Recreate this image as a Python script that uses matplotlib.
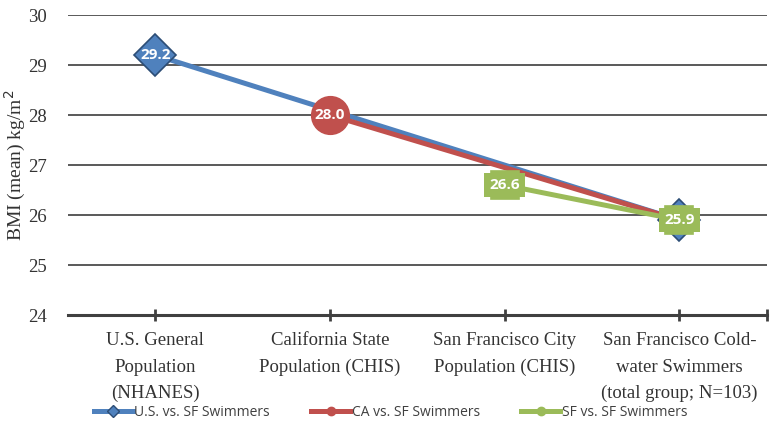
import numpy as np
import matplotlib as mpl
mpl.use('Agg')
import matplotlib.pyplot as plt

categories = ["U.S. General\nPopulation\n(NHANES)",
              "California State\nPopulation (CHIS)",
              "San Francisco City\nPopulation (CHIS)",
              "San Francisco Cold-\nwater Swimmers\n(total group; N=103)"]
us_vals = [29.2, np.nan, np.nan, 25.9]
ca_vals = [np.nan, 28.0, np.nan, 25.9]
sf_vals = [np.nan, np.nan, 26.6, 25.9]
series_names = ["U.S. vs. SF Swimmers", "CA vs. SF Swimmers", "SF vs. SF Swimmers"]

blue = '#4F81BD'
red = '#C0504D'
green = '#9BBB59'
serif = 'Liberation Serif'
sans = 'Open Sans'

fig = plt.figure(figsize=(7.73, 4.34), dpi=100)
ax = fig.add_axes([0.088, 0.274, 0.904, 0.691])

x = np.arange(len(categories))

def draw(vals, color, marker, ms, mec, label, leg_marker, lab_box=False, skip_end=False):
    vals = np.array(vals, dtype=float)
    ok = ~np.isnan(vals)
    xs, ys = x[ok], vals[ok]
    ax.plot(xs, ys, '-', color=color, lw=3.6, solid_capstyle='butt', zorder=3)
    mx, my = (xs[:-1], ys[:-1]) if skip_end else (xs, ys)
    ax.plot(mx, my, linestyle='none', marker=marker, ms=ms, color=color,
            mec=mec, mew=1.2, zorder=4)
    # proxy for legend
    ax.plot([], [], '-', color=color, lw=3.6, marker=leg_marker, ms=6, mec=mec,
            label=label)
    for xi, yi in zip(xs, ys):
        if skip_end and xi == xs[-1]:
            continue
        bbox = dict(boxstyle='square,pad=0.35', fc=color, ec='none') if lab_box else None
        ax.text(xi, yi, f"{yi:.1f}", color='white', fontsize=11, fontweight='bold',
                family=sans, ha='center', va='center', zorder=5, bbox=bbox)

draw(us_vals, blue, 'D', 21, '#2C4D75', series_names[0], 'D')
draw(ca_vals, red, 'o', 27, red, series_names[1], 'o', skip_end=True)
draw(sf_vals, green, 's', 20, green, series_names[2], 'o', lab_box=True)

ax.set_xlim(-0.5, 3.5)
ax.set_ylim(24, 30)
ax.set_yticks(range(24, 31))
for yv in range(25, 31):
    ax.axhline(yv, color='#595959', lw=1.4, zorder=1)

for s in ['top', 'right', 'left']:
    ax.spines[s].set_visible(False)
ax.spines['bottom'].set_color('#404040')
ax.spines['bottom'].set_linewidth(2.2)

ax.set_xticks(list(x) + [3.5])
ax.set_xticklabels(categories + [""], fontsize=13.5, family=serif, color='#333333')
for t in ax.get_xticklabels():
    t.set_linespacing(1.7)
ax.tick_params(axis='x', direction='inout', length=9, width=2, color='#404040', pad=8)
ax.tick_params(axis='y', length=0, labelsize=13.5, labelcolor='#333333', pad=15)
for t in ax.get_yticklabels():
    t.set_family(serif)

ax.set_ylabel("BMI (mean) kg/m$^2$", fontsize=14, family=serif, color='#333333')
ax.yaxis.set_label_coords(-0.057, 0.5)

fig.legend(loc='center', bbox_to_anchor=(0.505, 0.05), ncol=3, frameon=False,
           prop={'family': sans, 'size': 10}, handlelength=2.8, columnspacing=3,
           handletextpad=0.1, labelcolor='#404040')

plt.savefig("out.png", dpi=100)
